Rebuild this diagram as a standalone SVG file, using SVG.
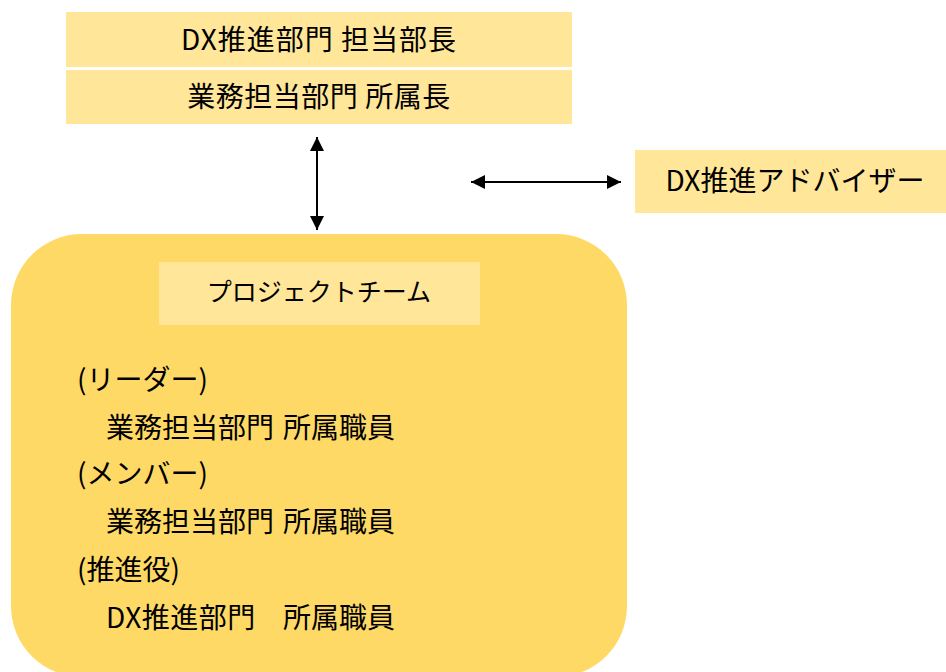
<svg xmlns="http://www.w3.org/2000/svg" width="946" height="672" viewBox="0 0 946 672">
<defs>
<style>
.t{font-family:"Noto Sans CJK JP","Noto Sans",sans-serif;fill:#000;white-space:pre}
.c{text-anchor:middle}
.lt{fill:#FFE699}
.dk{fill:#FFD966}
.ln{stroke:#000;stroke-width:2;fill:none}
</style>
<marker id="ah" viewBox="0 0 10 10" refX="10" refY="5" markerWidth="7" markerHeight="7" markerUnits="strokeWidth" orient="auto-start-reverse">
<path d="M0,0 L10,5 L0,10 Z" fill="#000"/>
</marker>
</defs>
<rect width="946" height="672" fill="#fff"/>
<g id="team">
<rect class="dk" x="11" y="234" width="616" height="443" rx="71" ry="71"/>
<rect class="lt" x="159" y="262" width="321" height="63"/>
<text class="t c" x="319" y="301" font-size="25">プロジェクトチーム</text>
<text class="t" x="77" y="390" font-size="28">(リーダー)</text>
<text class="t" x="106" y="438" font-size="28">業務担当部門<tspan x="283">所属職員</tspan></text>
<text class="t" x="77" y="484" font-size="28">(メンバー)</text>
<text class="t" x="106" y="532" font-size="28">業務担当部門<tspan x="283">所属職員</tspan></text>
<text class="t" x="77" y="580" font-size="28">(推進役)</text>
<text class="t" x="106" y="628" font-size="28" letter-spacing="0.5">DX推進部門<tspan x="283" letter-spacing="0">所属職員</tspan></text>
</g>
<g id="head1">
<rect class="lt" x="66" y="12" width="506" height="55"/>
<text class="t c" x="319" y="50" font-size="28" letter-spacing="1">DX推進部門 担当部長</text>
</g>
<g id="head2">
<rect class="lt" x="66" y="70" width="506" height="54"/>
<text class="t c" x="319" y="107" font-size="28" letter-spacing="0.5">業務担当部門 所属長</text>
</g>
<g id="advisor">
<rect class="lt" x="635" y="150" width="311" height="63"/>
<text class="t c" x="795" y="191" font-size="28">DX推進アドバイザー</text>
</g>
<g id="connectors">
<line class="ln" x1="317" y1="137" x2="317" y2="230" marker-start="url(#ah)" marker-end="url(#ah)"/>
<line class="ln" x1="471" y1="182" x2="621" y2="182" marker-start="url(#ah)" marker-end="url(#ah)"/>
</g>
</svg>
